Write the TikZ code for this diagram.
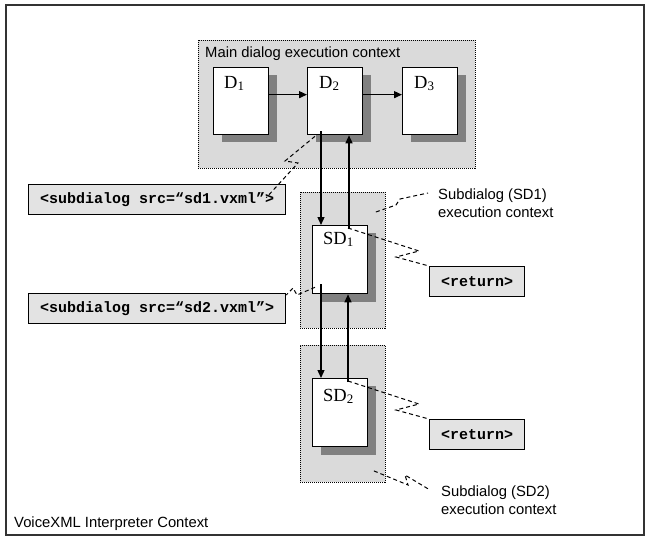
\documentclass[tikz,border=0pt]{standalone}
\usepackage{fontspec}
\setmainfont{Liberation Serif}
\setsansfont{Liberation Sans}
\setmonofont{Liberation Mono}
\usetikzlibrary{arrows.meta,calc}
\definecolor{ctxgray}{HTML}{DADADA}
\definecolor{codegray}{HTML}{E3E3E3}
\definecolor{shadowgray}{HTML}{808080}
\definecolor{framecol}{HTML}{333333}
\begin{document}
\begin{tikzpicture}[x=1pt,y=-1pt,
  ctx/.style={draw, dash pattern=on 1pt off 1pt, line width=0.9pt, fill=ctxgray, anchor=north west, inner sep=0pt},
  dlg/.style={draw, line width=1.3pt, fill=white, anchor=north west, inner sep=0pt, minimum width=55pt, minimum height=67pt},
  shad/.style={fill=shadowgray, draw=none, anchor=north west, inner sep=0pt, minimum width=55pt, minimum height=67pt},
  codebox/.style={draw, line width=1.3pt, fill=codegray, anchor=north west, inner sep=0pt, minimum height=30pt, font=\ttfamily\bfseries\fontsize{15}{18}\selectfont},
  dlab/.style={anchor=base west, inner sep=0pt, font=\fontsize{18.5}{20}\selectfont},
  lbl/.style={inner sep=0pt, font=\sffamily\fontsize{14.8}{18}\selectfont},
  arr/.style={line width=1.3pt, -{Triangle[length=8pt,width=7pt]}},
  callout/.style={line width=1pt, dash pattern=on 4pt off 3pt}
]
\useasboundingbox (0,0) rectangle (650,541);
% outer frame
\draw[line width=2pt, draw=framecol] (6,4.5) rectangle (644,535);
\node[lbl, anchor=base west] (vxml) at (14,527) {VoiceXML Interpreter Context};

% contexts
\node[ctx, minimum width=277pt, minimum height=128pt] (mainctx) at (198,40) {};
\node[ctx, minimum width=85pt, minimum height=136pt] (sd1ctx) at (300,192) {};
\node[ctx, minimum width=85pt, minimum height=137pt] (sd2ctx) at (300,345) {};
\node[lbl, anchor=base west] (mainlbl) at (205,57) {Main dialog execution context};

% shadows
\node[shad] (d1s) at (222,75) {};
\node[shad] (d2s) at (316,75) {};
\node[shad] (d3s) at (411,75) {};
\node[shad, minimum height=69pt] (sd1s) at (321,233) {};
\node[shad, minimum height=69pt] (sd2s) at (321,386) {};

% dialog boxes
\node[dlg] (d1) at (213,67) {};
\node[dlg] (d2) at (307,67) {};
\node[dlg] (d3) at (402,67) {};
\node[dlg, minimum height=68pt] (sd1) at (312,225) {};
\node[dlg, minimum height=68pt] (sd2) at (312,378) {};

\node[dlab] (d1l) at (224,88) {D\textsubscript{1}};
\node[dlab] (d2l) at (319,88) {D\textsubscript{2}};
\node[dlab] (d3l) at (414,88) {D\textsubscript{3}};
\node[dlab] (sd1l) at (323,244) {SD\textsubscript{1}};
\node[dlab] (sd2l) at (323,401) {SD\textsubscript{2}};

% code boxes
\node[codebox, minimum width=257pt] (code1) at (28,184) {<subdialog src=“sd1.vxml”>};
\node[codebox, minimum width=257pt] (code2) at (28,293) {<subdialog src=“sd2.vxml”>};
\node[codebox, minimum width=95pt] (ret1) at (429,266) {<return>};
\node[codebox, minimum width=95pt] (ret2) at (429,419) {<return>};

% labels
\node[lbl, anchor=north west, align=left] (sd1lbl) at (438,189) {Subdialog (SD1)\\execution context};
\node[lbl, anchor=north west, align=left] (sd2lbl) at (441,486) {Subdialog (SD2)\\execution context};

% arrows
\draw[arr] ($(d1.east)+(0,-6.5)$) -- ($(d2.west)+(0,-6.5)$);
\draw[arr] ($(d2.east)+(0,-6.5)$) -- ($(d3.west)+(0,-6.5)$);
\draw[arr] ($(d2.south west)+(14,-4)$) -- ($(sd1.north west)+(9,0)$);
\draw[arr] ($(sd1.north west)+(37,4)$) -- ($(d2.south west)+(42,0)$);
\draw[arr] ($(sd1.south west)+(9,-10)$) -- ($(sd2.north west)+(9,0)$);
\draw[arr] ($(sd2.north west)+(36,4)$) -- ($(sd1.south west)+(36,0)$);

% callouts
\coordinate (c1a) at (285,161);
\coordinate (c1b) at (298,163);
\draw[callout] ($(d2.south west)+(8,1)$) -- (c1a) -- (c1b) -- ($(code1.east)+(-20,-2)$);
\coordinate (c2a) at (297,295);
\coordinate (c2b) at (293,288);
\draw[callout] ($(sd1.south west)+(3,-7)$) -- (c2a) -- (c2b) -- ($(code2.north east)+(0,2)$);
\coordinate (c3a) at (419,251);
\coordinate (c3b) at (396,257);
\draw[callout] ($(sd1.north west)+(36,3)$) -- (c3a) -- (c3b) -- (ret1.north west);
\coordinate (c4a) at (419,404);
\coordinate (c4b) at (396,410);
\draw[callout] ($(sd2.north west)+(36,3)$) -- (c4a) -- (c4b) -- (ret2.north west);
\coordinate (c5a) at (400,199);
\coordinate (c5b) at (396,205);
\draw[callout] ($(sd1ctx.north east)+(-10,20)$) -- (c5b) -- (c5a) -- ($(sd1lbl.north west)+(-10,4)$);
\coordinate (c6a) at (408,485);
\coordinate (c6b) at (405,475);
\draw[callout] ($(sd2ctx.south east)+(-12,-12)$) -- (c6a) -- (c6b) -- ($(sd2lbl.north west)+(-11,4)$);
\end{tikzpicture}
\end{document}
